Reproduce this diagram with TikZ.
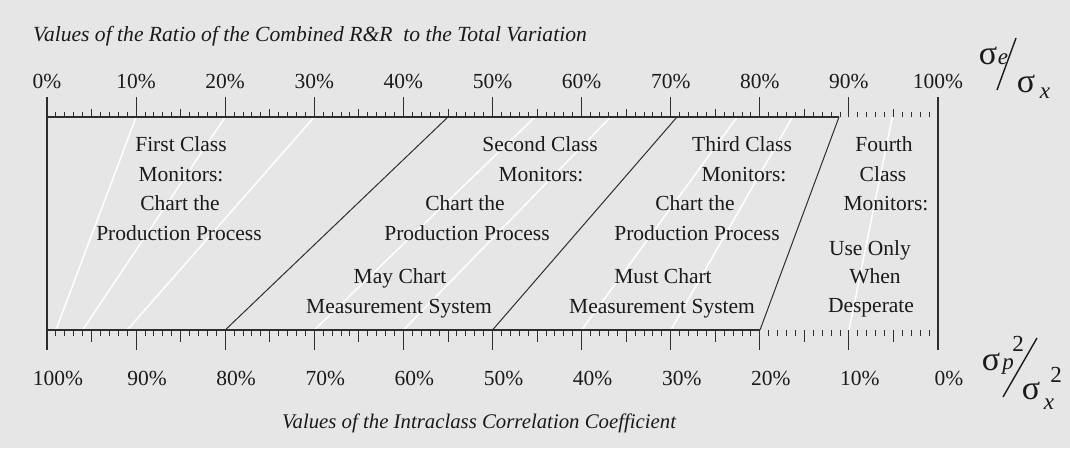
\documentclass[tikz,border=0pt]{standalone}
\usepackage{fontspec}
\setmainfont{Liberation Serif}
\definecolor{bgc}{HTML}{E6E6E6}
\definecolor{axisc}{HTML}{2E2E2E}
\definecolor{txtc}{HTML}{1A1A1A}
\begin{document}
\begin{tikzpicture}[x=1pt,y=-1pt,
  axis/.style={draw=axisc, line width=1.2pt},
  tickline/.style={draw=axisc, line width=0.9pt},
  zoneline/.style={draw=axisc, line width=1pt},
  guide/.style={draw=white, line width=1.5pt},
  lbl/.style={font=\fontsize{21.5}{24}\selectfont, text=txtc, inner sep=0pt, anchor=base},
  pct/.style={font=\fontsize{21.5}{24}\selectfont, text=txtc, inner sep=0pt, anchor=base},
  ttl/.style={font=\fontsize{21.6}{24}\selectfont\itshape, text=txtc, inner sep=0pt, anchor=base west},
  sig/.style={font=\fontsize{34}{34}\selectfont, text=txtc, inner sep=0pt},
  subs/.style={font=\fontsize{23}{23}\selectfont\itshape, text=txtc, inner sep=0pt},
  sups/.style={font=\fontsize{23}{23}\selectfont, text=txtc, inner sep=0pt},
]
\fill[bgc] (0,0) rectangle (1070,448);
\useasboundingbox (0,0) rectangle (1070,448);

% white guide lines (nomograph)
\foreach \r in {0.1,0.2,0.3,0.5477,0.6325,0.7746,0.8367,0.9487}{
  \draw[guide] ({47+891*\r},117) -- ({47+891*\r*\r},330);
}

% ticks top
\foreach \i in {0,...,100}{
  \pgfmathsetmacro\len{ifthenelse(mod(\i,10)==0,20,ifthenelse(mod(\i,5)==0,8,5))}
  \draw[tickline] ({47+8.91*\i},117) -- ++(0,-\len);
}
% ticks bottom
\foreach \i in {0,...,100}{
  \pgfmathsetmacro\len{ifthenelse(mod(\i,10)==0,20,ifthenelse(mod(\i,5)==0,12,6))}
  \draw[tickline] ({47+8.91*\i},330) -- ++(0,\len);
}

% axes and frame
\coordinate (tl) at (47,97);
\coordinate (bl) at (47,350);
\coordinate (tr) at (938,97);
\coordinate (br) at (938,350);
\coordinate (ta0) at (47,117);
\coordinate (ta1) at (839,117);
\coordinate (ba0) at (47,330);
\coordinate (ba1) at (760,330);
\draw[axis] (tl) -- (bl);
\draw[axis] (tr) -- (br);
\draw[axis] (ta0) -- (ta1);
\draw[axis] (ba0) -- (ba1);

% class boundaries
\coordinate (z1t) at (448,117);
\coordinate (z1b) at (225.2,330);
\coordinate (z2t) at (677,117);
\coordinate (z2b) at (492.5,330);
\draw[zoneline] (z1t) -- (z1b);
\draw[zoneline] (z2t) -- (z2b);
\draw[zoneline] (ta1) -- (ba1);

% percent labels
\foreach \p in {0,...,10}{
  \pgfmathtruncatemacro\v{10*\p}
  \pgfmathtruncatemacro\w{100-10*\p}
  \node[pct] (top\p) at ({47+89.1*\p},88) {\v\%};
  \node[pct] (bot\p) at ({58+89.1*\p},385) {\w\%};
}

% titles
\node[ttl] (title) at (33,41.7) {Values of the Ratio of the Combined R\&R\ \ to the Total Variation};
\node[ttl, font=\fontsize{20.8}{24}\selectfont\itshape] (btitle) at (282,428) {Values of the Intraclass Correlation Coefficient};

% First class
\node[lbl] (a1) at (181,151) {First Class};
\node[lbl] (a2) at (181,181) {Monitors:};
\node[lbl] (a3) at (180,210) {Chart the};
\node[lbl] (a4) at (179,240) {Production Process};
% Second class
\node[lbl] (b1) at (540,151) {Second Class};
\node[lbl] (b2) at (541,181) {Monitors:};
\node[lbl] (b3) at (465,210) {Chart the};
\node[lbl] (b4) at (467,240) {Production Process};
\node[lbl] (b5) at (400,283) {May Chart};
\node[lbl] (b6) at (399,313) {Measurement System};
% Third class
\node[lbl] (c1) at (742,151) {Third Class};
\node[lbl] (c2) at (744,181) {Monitors:};
\node[lbl] (c3) at (695,210) {Chart the};
\node[lbl] (c4) at (697,240) {Production Process};
\node[lbl] (c5) at (663,283) {Must Chart};
\node[lbl] (c6) at (662,313) {Measurement System};
% Fourth class
\node[lbl] (d1) at (884,151) {Fourth};
\node[lbl] (d2) at (883,181) {Class};
\node[lbl] (d3) at (886,210) {Monitors:};
\node[lbl] (d4) at (870,255) {Use Only};
\node[lbl] (d5) at (875,283) {When};
\node[lbl] (d6) at (871,312) {Desperate};

% sigma_e / sigma_x
\node[sig] (s1) at (988,56) {σ};
\node[subs] (s1e) at (1003,59) {e};
\coordinate (sl1a) at (997,90);
\coordinate (sl1b) at (1016,38);
\draw[draw=txtc, line width=1.4pt] (sl1a) -- (sl1b);
\node[sig] (s2) at (1026,84) {σ};
\node[subs] (s2x) at (1045,93) {x};

% sigma_p^2 / sigma_x^2
\node[sig] (s3) at (991,362) {σ};
\node[subs] (s3p) at (1008,367) {p};
\node[sups] (s3s) at (1018,344) {2};
\coordinate (sl2a) at (1003,397);
\coordinate (sl2b) at (1037,338);
\draw[draw=txtc, line width=1.4pt] (sl2a) -- (sl2b);
\node[sig] (s4) at (1031,391) {σ};
\node[subs] (s4x) at (1049,404) {x};
\node[sups] (s4s) at (1056,375) {2};
\end{tikzpicture}
\end{document}
